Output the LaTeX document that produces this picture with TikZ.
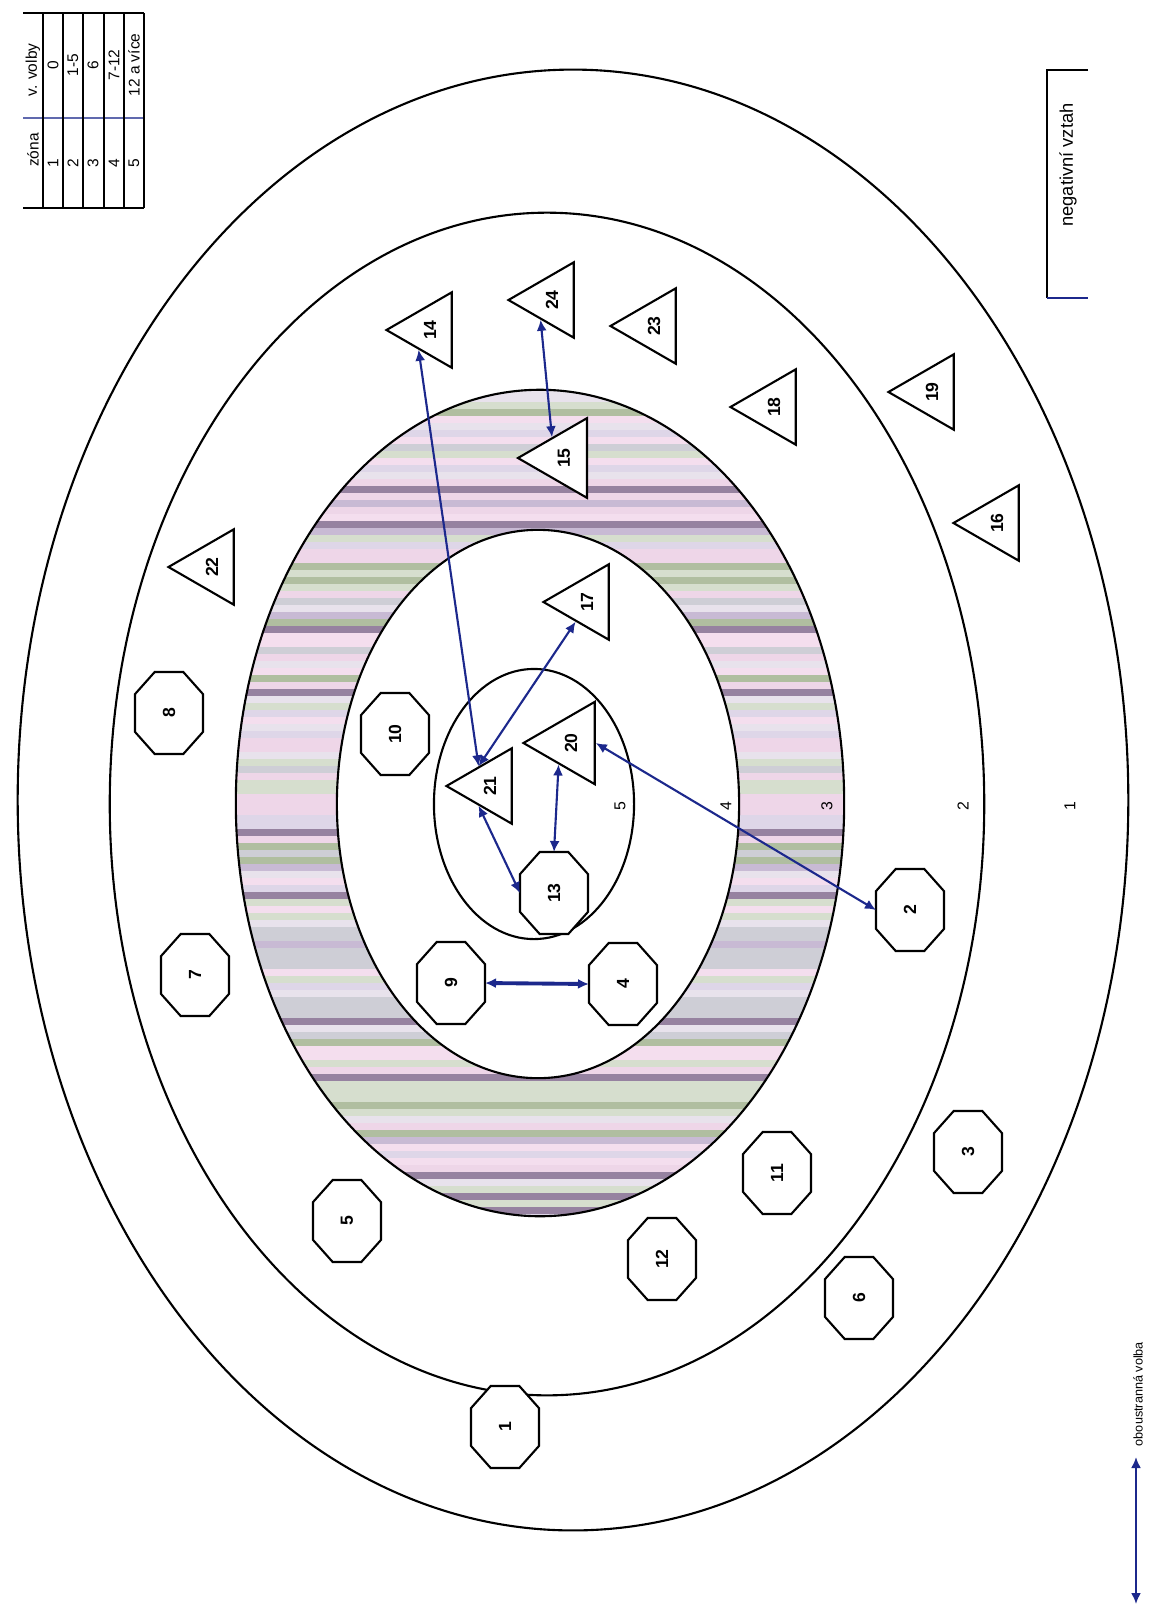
\documentclass[tikz,border=0pt]{standalone}
\usepackage{fontspec}
\setmainfont{Liberation Sans}
\usetikzlibrary{arrows.meta,shapes.geometric}

\definecolor{choiceblue}{RGB}{28,40,140}
\definecolor{ring1}{RGB}{238,214,232}
\definecolor{ring2}{RGB}{222,214,232}
\definecolor{ring3}{RGB}{214,222,206}
\definecolor{ring4}{RGB}{232,226,236}
\definecolor{ring5}{RGB}{200,186,212}
\definecolor{ring6}{RGB}{176,190,160}
\definecolor{ring7}{RGB}{150,130,160}
\definecolor{ring8}{RGB}{244,222,238}
\definecolor{ring9}{RGB}{206,206,214}
\newcommand\numfont{\fontsize{5}{6}\selectfont\bfseries}

% octagon stretched to the node's rectangle
\makeatletter
\pgfdeclareshape{octobox}{%
  \inheritsavedanchors[from=rectangle]%
  \inheritanchorborder[from=rectangle]%
  \inheritanchor[from=rectangle]{center}%
  \inheritanchor[from=rectangle]{text}%
  \inheritanchor[from=rectangle]{mid}%
  \inheritanchor[from=rectangle]{base}%
  \inheritanchor[from=rectangle]{north}%
  \inheritanchor[from=rectangle]{south}%
  \inheritanchor[from=rectangle]{east}%
  \inheritanchor[from=rectangle]{west}%
  \inheritanchor[from=rectangle]{north east}%
  \inheritanchor[from=rectangle]{north west}%
  \inheritanchor[from=rectangle]{south east}%
  \inheritanchor[from=rectangle]{south west}%
  \backgroundpath{%
    \southwest \edef\octxa{\the\pgf@x}\edef\octya{\the\pgf@y}%
    \northeast \edef\octxb{\the\pgf@x}\edef\octyb{\the\pgf@y}%
    \pgfmathsetmacro\octcx{0.27*(\octxb-\octxa)}%
    \pgfmathsetmacro\octcy{0.29*(\octyb-\octya)}%
    \pgfpathmoveto{\pgfpoint{\octxa+\octcx pt}{\octya}}%
    \pgfpathlineto{\pgfpoint{\octxb-\octcx pt}{\octya}}%
    \pgfpathlineto{\pgfpoint{\octxb}{\octya+\octcy pt}}%
    \pgfpathlineto{\pgfpoint{\octxb}{\octyb-\octcy pt}}%
    \pgfpathlineto{\pgfpoint{\octxb-\octcx pt}{\octyb}}%
    \pgfpathlineto{\pgfpoint{\octxa+\octcx pt}{\octyb}}%
    \pgfpathlineto{\pgfpoint{\octxa}{\octyb-\octcy pt}}%
    \pgfpathlineto{\pgfpoint{\octxa}{\octya+\octcy pt}}%
    \pgfpathclose
  }%
}
\makeatother

\begin{document}
\begin{tikzpicture}[
    x=0.01cm, y=-0.01cm,
    octa/.style={shape=octobox, draw, fill=white, line width=0.6pt,
      minimum width=0.82cm, minimum height=0.68cm, inner sep=0pt, outer sep=0pt,
      rotate=90, font=\numfont},
    trian/.style={regular polygon, regular polygon sides=3, draw, fill=white,
      line width=0.6pt, minimum size=0.87cm, inner sep=0pt, rotate=90, font=\numfont},
    zonenum/.style={rotate=90, inner sep=1pt, font=\fontsize{4.5}{5}\selectfont},
    tabtext/.style={rotate=90, inner sep=0pt, font=\fontsize{4.4}{5}\selectfont},
    mutual/.style={{Latex[length=0.11cm,width=0.1cm]}-{Latex[length=0.11cm,width=0.1cm]},
      draw=choiceblue, line width=0.6pt},
    zone/.style={line width=0.6pt}
  ]
  \fill[white] (0,0) rectangle (1149,1608);
  \useasboundingbox (0,0) rectangle (1149,1608);

  % shaded ring (zone 3)
  \begin{scope}
    \clip (540,803) ellipse [x radius=3.04cm, y radius=4.13cm];
    \pgfmathsetseed{11}
    \foreach \s in {0,...,119}{
      \pgfmathrandominteger{\rc}{1}{9}
      \fill[ring\rc] (230,{388+\s*7}) rectangle (850,{396+\s*7});
    }
  \end{scope}

  % zones
  \draw[zone] (573,800) ellipse [x radius=5.55cm, y radius=7.30cm];
  \draw[zone] (547,804) ellipse [x radius=4.37cm, y radius=5.91cm];
  \draw[zone] (540,803) ellipse [x radius=3.04cm, y radius=4.13cm];
  \filldraw[zone, fill=white] (538,804) ellipse [x radius=2.01cm, y radius=2.74cm];
  \draw[zone] (534,804) ellipse [x radius=1.00cm, y radius=1.35cm];

  \node[zonenum] (z5) at (620,806) {5};
  \node[zonenum] (z4) at (726,806) {4};
  \node[zonenum] (z3) at (827,806) {3};
  \node[zonenum] (z2) at (963,806) {2};
  \node[zonenum] (z1) at (1070,806) {1};

  % table
  \draw[line width=0.6pt] (23,13) -- (144,13);
  \draw[line width=0.6pt, choiceblue!70] (23,118) -- (144,118);
  \draw[line width=0.6pt] (23,208) -- (144,208);
  \foreach \x in {43,63,83,104,124,144}
    \draw[line width=0.6pt] (\x,13) -- (\x,208);
  \node[tabtext] (hzona) at (33,150) {zóna};
  \node[tabtext] (hvolby) at (33,70) {v. volby};
  \foreach \z/\xc/\v in {1/53/0, 2/73/1-5, 3/93/6, 4/114/7-12, 5/134/12 a více}{
    \node[tabtext] (val\z) at (\xc,65) {\v};
    \node[tabtext] (zone\z) at (\xc,163) {\z};
  }

  % negative relation box
  \draw[line width=0.6pt] (1088,70) -- (1047,70) -- (1047,298);
  \draw[line width=0.6pt, choiceblue] (1047,298) -- (1088,298);
  \node[rotate=90, font=\fontsize{5.2}{6}\selectfont] (negtext) at (1068,165) {negativní vztah};

  % octagons
  \node[octa] (o1) at (505,1427) {1};
  \node[octa] (o2) at (910,910) {2};
  \node[octa] (o3) at (968,1152) {3};
  \node[octa] (o4) at (623,984) {4};
  \node[octa] (o5) at (347,1221) {5};
  \node[octa] (o6) at (859,1298) {6};
  \node[octa] (o7) at (195,975) {7};
  \node[octa] (o8) at (169,713) {8};
  \node[octa] (o9) at (451,983) {9};
  \node[octa] (o10) at (395,734) {10};
  \node[octa] (o11) at (777,1173) {11};
  \node[octa] (o12) at (662,1259) {12};
  \node[octa] (o13) at (554,893) {13};

  % triangles
  \node[trian] (t14) at (430,330) {14};
  \node[trian, minimum size=0.92cm] (t15) at (564,458) {15};
  \node[trian] (t16) at (997,523) {16};
  \node[trian] (t17) at (587,602) {17};
  \node[trian] (t18) at (774,407) {18};
  \node[trian] (t19) at (932,392) {19};
  \node[trian, minimum size=0.95cm] (t20) at (571,743) {20};
  \node[trian] (t21) at (490,786) {21};
  \node[trian] (t22) at (212,567) {22};
  \node[trian] (t23) at (654,326) {23};
  \node[trian] (t24) at (552,300) {24};

  % mutual choices
  \draw[mutual] (t14.side 1) -- (t21.side 3);
  \draw[mutual] (t17.side 1) -- (t21.side 3);
  \draw[mutual] (t24.side 1) -- (t15.side 3);
  \draw[mutual] (t21.side 1) -- (o13.north);
  \draw[mutual] (o13.east) -- (t20.side 1);
  \draw[mutual] (o2.north) -- (t20.south);
  \draw[mutual, line width=1.1pt] (o9.south) -- (o4.north);

  % legend
  \coordinate (legtop) at (1136,1457);
  \coordinate (legbot) at (1136,1604);
  \draw[mutual] (legtop) -- (legbot);
  \node[rotate=90, font=\fontsize{3.6}{4}\selectfont] (legmutual) at (1138,1394) {oboustranná volba};
\end{tikzpicture}
\end{document}
